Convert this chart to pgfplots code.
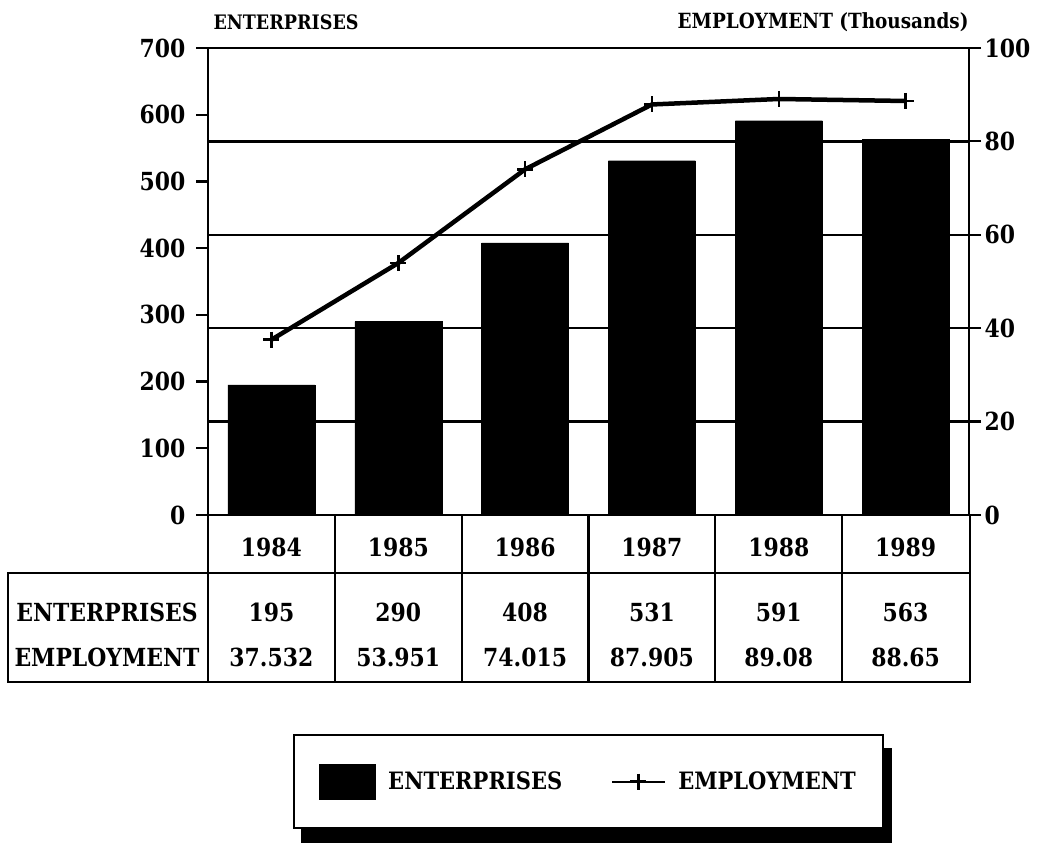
\documentclass[border=0pt]{standalone}
\usepackage{fontspec}
\setmainfont{DejaVu Serif}[FakeStretch=0.88]
\usepackage{pgfplots}
\pgfplotsset{compat=1.18}
\pgfdeclarelayer{background}
\pgfsetlayers{background,main}
\newcommand{\tf}{\fontsize{25}{30}\selectfont\bfseries}
\pgfplotsset{
  lineleg/.style={legend image code/.code={\draw[mark repeat=2,mark phase=2,##1,line width=2bp] plot coordinates {(0bp,0bp) (26bp,0bp) (53bp,0bp)};}},
  barleg/.style={legend image code/.code={\fill[black] (0bp,-17bp) rectangle (55bp,17bp);}},
}
\begin{document}
\begin{tikzpicture}[x=1bp,y=1bp]
\path[use as bounding box] (0,0) rectangle (1045,843);
\pgfplotsset{
  base/.style={at={(208bp,328bp)}, anchor=south west, scale only axis,
    width=761bp, height=467bp, xmin=-0.5, xmax=5.5,
    /pgf/number format/assume math mode=true,
    tick align=outside, major tick length=12bp,
    major tick style={line width=2.2bp, black},
    axis line style={line width=2.4bp},
    clip=false},
}
\begin{axis}[base, ymin=0, ymax=700, ytick={0,100,...,700}, ytick pos=left,
  xtick={0,...,5}, xticklabels={1984,1985,1986,1987,1988,1989},
  major x tick style={draw=none},
  xticklabel style={font=\tf, yshift=-8bp},
  yticklabel style={font=\tf, xshift=-7bp},
  ybar, bar width=0.686]
\addplot[fill=black, draw=black] coordinates {(0,195) (1,290) (2,408) (3,531) (4,591) (5,563)};
\end{axis}
\begin{axis}[base, ymin=0, ymax=100, ytick={0,20,...,100},
  axis y line*=right, axis x line=none,
  ymajorgrids, grid style={line width=2.5bp, black}, major grid style={line width=2.5bp, black},
  yticklabel style={font=\tf, anchor=west},
  legend columns=2,
  legend style={name=leg, at={(0.5,-0.5707)}, anchor=center, draw=black, line width=2bp,
    fill=white, font=\fontsize{24}{29}\selectfont\bfseries, inner xsep=25bp, inner ysep=28.5bp,
    /tikz/every odd column/.append style={column sep=10bp},
    /tikz/every even column/.append style={column sep=47bp}}]
\addlegendimage{barleg}
\addplot[line width=4.5bp, mark=+, mark size=8bp, mark options={line width=2.5bp}, lineleg]
  coordinates {(0,37.532) (1,53.951) (2,74.015) (3,87.905) (4,89.08) (5,88.65)};
\legend{ENTERPRISES, EMPLOYMENT}
\end{axis}
\begin{pgfonlayer}{background}
\fill[black] ([xshift=8bp,yshift=-14bp]leg.south west) rectangle ([xshift=8bp,yshift=-14bp]leg.north east);
\end{pgfonlayer}
% titles
\node[anchor=west, font=\fontsize{20}{24}\selectfont\bfseries] at (210,821) {ENTERPRISES};
\node[anchor=east, font=\fontsize{21}{25}\selectfont\bfseries] at (972,821) {EMPLOYMENT (Thousands)};
% table
\begin{scope}[line width=2.2bp]
\draw (8,270) rectangle (970,161);
\draw (970,328) -- (970,270);
\foreach \k in {0,...,5} {\draw ({208+\k*126.83},328) -- ({208+\k*126.83},161);}
\end{scope}
\node[font=\tf] at (107,231) {ENTERPRISES};
\node[font=\tf] at (107,186) {EMPLOYMENT};
\foreach \v [count=\i from 0] in {195,290,408,531,591,563}
  {\node[font=\tf] at ({208+(\i+0.5)*126.83},231) {\v};}
\foreach \v [count=\i from 0] in {37.532,53.951,74.015,87.905,89.08,88.65}
  {\node[font=\tf] at ({208+(\i+0.5)*126.83},186) {\v};}
\end{tikzpicture}
\end{document}
